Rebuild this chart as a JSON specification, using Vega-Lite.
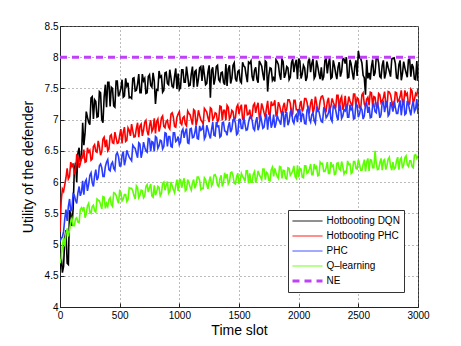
{
"$schema": "https://vega.github.io/schema/vega-lite/v6.json",
"width": 358, "height": 281,
"autosize": {"type": "none"},
"padding": {"left": 60, "top": 26, "right": 43, "bottom": 39},
"background": "white",
"config": {
  "font": "Liberation Sans",
  "view": {"stroke": "#333", "strokeWidth": 1},
  "axis": {
    "grid": true, "gridDash": [1, 3], "gridColor": "#777", "gridWidth": 1,
    "domainColor": "#222", "tickColor": "#222", "tickSize": -4,
    "labelFontSize": 10, "labelColor": "#000", "labelFont": "Liberation Sans",
    "titleFontSize": 14, "titleFontWeight": "normal", "titleColor": "#000", "titleFont": "Liberation Sans",
    "labelFlush": false, "labelOverlap": false
  },
  "legend": {
    "orient": "none", "legendX": 228, "legendY": 184, "title": null,
    "strokeColor": "#333", "fillColor": "white", "padding": 4,
    "symbolType": "stroke", "symbolSize": 900, "symbolOffset": 10.5,
    "labelFontSize": 10, "labelFont": "Liberation Sans", "labelColor": "#000", "labelOffset": 14,
    "clipHeight": 14, "rowPadding": 1
  }
},
"encoding": {
  "x": {"field": "t", "type": "quantitative", "title": "Time slot",
        "scale": {"domain": [0, 3000], "nice": false},
        "axis": {"values": [0, 500, 1000, 1500, 2000, 2500, 3000], "format": "d", "labelPadding": 7, "titlePadding": 3}},
  "y": {"field": "v", "type": "quantitative", "title": "Utility of the defender",
        "scale": {"domain": [4, 8.5], "nice": false, "zero": false},
        "axis": {"values": [4, 4.5, 5, 5.5, 6, 6.5, 7, 7.5, 8, 8.5], "format": "~g", "labelPadding": 6, "titlePadding": 9}},
  "color": {"field": "s", "type": "nominal",
    "scale": {"domain": ["a", "b", "c", "d", "e"], "range": ["#000000", "#ff0000", "#2a3cff", "#5cff00", "#c040f8"]},
    "legend": {"labelExpr": "{'a': 'Hotbooting DQN', 'b': 'Hotbooting PHC', 'c': 'PHC', 'd': 'Q–learning', 'e': 'NE'}[datum.label]",
      "encode": {"symbols": {"update": {"strokeWidth": {"signal": "datum.value === 'e' ? 3 : 1"}}}}}},
  "strokeDash": {"field": "s", "type": "nominal",
    "scale": {"domain": ["a", "b", "c", "d", "e"], "range": [[1, 0], [1, 0], [1, 0], [1, 0], [7, 5]]},
    "legend": {"labelExpr": "{'a': 'Hotbooting DQN', 'b': 'Hotbooting PHC', 'c': 'PHC', 'd': 'Q–learning', 'e': 'NE'}[datum.label]",
      "encode": {"symbols": {"update": {"strokeWidth": {"signal": "datum.value === 'e' ? 3 : 1"}}}}}}
},
"layer": [
  {
    "data": {"values": [
{"t":0,"a":4.6,"b":5.2,"c":5.05,"d":4.7},
{"t":20,"a":4.55,"b":5.89,"c":5.12,"d":4.99},
{"t":40,"a":5.1,"b":5.96,"c":5.41,"d":4.97},
{"t":60,"a":4.7,"b":6.22,"c":5.38,"d":5.26},
{"t":80,"a":5.55,"b":6.09,"c":5.73,"d":5.23},
{"t":100,"a":5.3,"b":6.25,"c":5.58,"d":5.42},
{"t":120,"a":6.2,"b":6.14,"c":5.79,"d":5.3},
{"t":140,"a":6.0,"b":6.43,"c":5.66,"d":5.43},
{"t":160,"a":6.55,"b":6.23,"c":5.93,"d":5.35},
{"t":180,"a":6.4,"b":6.41,"c":5.84,"d":5.59},
{"t":200,"a":6.59,"b":6.52,"c":5.8,"d":5.6},
{"t":220,"a":7.13,"b":6.33,"c":6.04,"d":5.49},
{"t":240,"a":6.96,"b":6.48,"c":5.96,"d":5.66},
{"t":260,"a":7.35,"b":6.35,"c":6.15,"d":5.5},
{"t":280,"a":7.01,"b":6.57,"c":5.93,"d":5.63},
{"t":300,"a":7.29,"b":6.49,"c":6.2,"d":5.52},
{"t":320,"a":7.05,"b":6.66,"c":6.08,"d":5.71},
{"t":340,"a":7.43,"b":6.43,"c":6.29,"d":5.64},
{"t":360,"a":6.95,"b":6.69,"c":6.09,"d":5.77},
{"t":380,"a":7.56,"b":6.56,"c":6.25,"d":5.58},
{"t":400,"a":7.6,"b":6.5,"c":6.36,"d":5.61},
{"t":420,"a":7.21,"b":6.74,"c":6.18,"d":5.75},
{"t":440,"a":7.5,"b":6.63,"c":6.32,"d":5.61},
{"t":460,"a":7.2,"b":6.8,"c":6.19,"d":5.82},
{"t":480,"a":7.62,"b":6.62,"c":6.47,"d":5.72},
{"t":500,"a":7.42,"b":6.75,"c":6.26,"d":5.86},
{"t":520,"a":7.64,"b":6.62,"c":6.43,"d":5.7},
{"t":540,"a":7.38,"b":6.88,"c":6.27,"d":5.8},
{"t":560,"a":7.54,"b":6.67,"c":6.51,"d":5.69},
{"t":580,"a":7.35,"b":6.83,"c":6.4,"d":5.91},
{"t":600,"a":7.34,"b":6.93,"c":6.34,"d":5.9},
{"t":620,"a":7.67,"b":6.72,"c":6.56,"d":5.78},
{"t":640,"a":7.47,"b":6.86,"c":6.46,"d":5.94},
{"t":660,"a":7.73,"b":6.72,"c":6.63,"d":5.75},
{"t":680,"a":7.43,"b":6.93,"c":6.39,"d":5.87},
{"t":700,"a":7.62,"b":6.83,"c":6.64,"d":5.75},
{"t":720,"a":7.42,"b":6.99,"c":6.5,"d":5.93},
{"t":740,"a":7.69,"b":6.75,"c":6.7,"d":5.84},
{"t":760,"a":7.55,"b":6.99,"c":6.49,"d":5.97},
{"t":780,"a":7.75,"b":6.85,"c":6.64,"d":5.76},
{"t":800,"a":7.25,"b":6.78,"c":6.73,"d":5.79},
{"t":820,"a":7.47,"b":7.01,"c":6.54,"d":5.93},
{"t":840,"a":7.68,"b":6.89,"c":6.67,"d":5.78},
{"t":860,"a":7.44,"b":7.06,"c":6.53,"d":5.98},
{"t":880,"a":7.75,"b":6.87,"c":6.79,"d":5.87},
{"t":900,"a":7.58,"b":6.99,"c":6.57,"d":6.01},
{"t":920,"a":7.8,"b":6.85,"c":6.73,"d":5.85},
{"t":940,"a":7.53,"b":7.11,"c":6.56,"d":5.94},
{"t":960,"a":7.69,"b":6.89,"c":6.79,"d":5.83},
{"t":980,"a":7.49,"b":7.04,"c":6.67,"d":6.04},
{"t":1000,"a":7.48,"b":7.13,"c":6.6,"d":6.03},
{"t":1020,"a":7.8,"b":6.92,"c":6.81,"d":5.91},
{"t":1040,"a":7.6,"b":7.05,"c":6.71,"d":6.06},
{"t":1060,"a":7.85,"b":6.9,"c":6.86,"d":5.88},
{"t":1080,"a":7.54,"b":7.1,"c":6.62,"d":5.99},
{"t":1100,"a":7.73,"b":7.0,"c":6.86,"d":5.87},
{"t":1120,"a":7.52,"b":7.16,"c":6.72,"d":6.04},
{"t":1140,"a":7.79,"b":6.91,"c":6.91,"d":5.96},
{"t":1160,"a":7.65,"b":7.15,"c":6.69,"d":6.08},
{"t":1180,"a":7.85,"b":7.0,"c":6.83,"d":5.88},
{"t":1200,"a":7.87,"b":6.93,"c":6.92,"d":5.9},
{"t":1220,"a":7.56,"b":7.15,"c":6.73,"d":6.04},
{"t":1240,"a":7.77,"b":7.03,"c":6.84,"d":5.89},
{"t":1260,"a":7.35,"b":7.19,"c":6.7,"d":6.09},
{"t":1280,"a":7.84,"b":7.0,"c":6.96,"d":5.98},
{"t":1300,"a":7.66,"b":7.11,"c":6.74,"d":6.12},
{"t":1320,"a":7.87,"b":6.96,"c":6.89,"d":5.95},
{"t":1340,"a":7.61,"b":7.22,"c":6.72,"d":6.05},
{"t":1360,"a":7.76,"b":6.99,"c":6.95,"d":5.93},
{"t":1380,"a":7.56,"b":7.15,"c":6.82,"d":6.15},
{"t":1400,"a":7.54,"b":7.23,"c":6.75,"d":6.13},
{"t":1420,"a":7.87,"b":7.01,"c":6.96,"d":6.01},
{"t":1440,"a":7.66,"b":7.15,"c":6.85,"d":6.16},
{"t":1460,"a":7.91,"b":6.99,"c":7.01,"d":5.98},
{"t":1480,"a":7.61,"b":7.2,"c":6.76,"d":6.09},
{"t":1500,"a":7.79,"b":7.09,"c":7.0,"d":5.97},
{"t":1520,"a":7.59,"b":7.24,"c":6.86,"d":6.14},
{"t":1540,"a":7.86,"b":7.0,"c":7.04,"d":6.06},
{"t":1560,"a":7.71,"b":7.23,"c":6.83,"d":6.18},
{"t":1580,"a":7.92,"b":7.09,"c":6.96,"d":5.98},
{"t":1600,"a":7.94,"b":7.01,"c":7.05,"d":6.0},
{"t":1620,"a":7.62,"b":7.23,"c":6.86,"d":6.13},
{"t":1640,"a":7.84,"b":7.11,"c":6.97,"d":5.99},
{"t":1660,"a":7.59,"b":7.27,"c":6.83,"d":6.18},
{"t":1680,"a":7.9,"b":7.08,"c":7.08,"d":6.08},
{"t":1700,"a":7.73,"b":7.19,"c":6.86,"d":6.21},
{"t":1720,"a":7.94,"b":7.04,"c":7.02,"d":6.04},
{"t":1740,"a":7.45,"b":7.3,"c":6.84,"d":6.14},
{"t":1760,"a":7.83,"b":7.07,"c":7.07,"d":6.02},
{"t":1780,"a":7.63,"b":7.23,"c":6.94,"d":6.24},
{"t":1800,"a":7.61,"b":7.31,"c":6.87,"d":6.22},
{"t":1820,"a":7.93,"b":7.09,"c":7.07,"d":6.09},
{"t":1840,"a":7.72,"b":7.23,"c":6.97,"d":6.25},
{"t":1860,"a":7.97,"b":7.07,"c":7.12,"d":6.06},
{"t":1880,"a":7.67,"b":7.27,"c":6.88,"d":6.18},
{"t":1900,"a":7.85,"b":7.17,"c":7.12,"d":6.05},
{"t":1920,"a":7.64,"b":7.32,"c":6.97,"d":6.22},
{"t":1940,"a":7.91,"b":7.07,"c":7.16,"d":6.14},
{"t":1960,"a":7.76,"b":7.31,"c":6.94,"d":6.26},
{"t":1980,"a":7.96,"b":7.16,"c":7.08,"d":6.06},
{"t":2000,"a":7.98,"b":7.08,"c":7.16,"d":6.08},
{"t":2020,"a":7.66,"b":7.3,"c":6.96,"d":6.21},
{"t":2040,"a":7.87,"b":7.18,"c":7.08,"d":6.07},
{"t":2060,"a":7.62,"b":7.34,"c":6.93,"d":6.26},
{"t":2080,"a":7.93,"b":7.15,"c":7.19,"d":6.16},
{"t":2100,"a":7.76,"b":7.26,"c":6.96,"d":6.29},
{"t":2120,"a":7.97,"b":7.11,"c":7.11,"d":6.12},
{"t":2140,"a":7.7,"b":7.37,"c":6.94,"d":6.22},
{"t":2160,"a":7.85,"b":7.14,"c":7.16,"d":6.1},
{"t":2180,"a":7.65,"b":7.3,"c":7.04,"d":6.32},
{"t":2200,"a":7.63,"b":7.38,"c":6.96,"d":6.3},
{"t":2220,"a":7.95,"b":7.16,"c":7.16,"d":6.17},
{"t":2240,"a":7.74,"b":7.29,"c":7.06,"d":6.32},
{"t":2260,"a":7.99,"b":7.14,"c":7.21,"d":6.14},
{"t":2280,"a":7.68,"b":7.34,"c":6.97,"d":6.25},
{"t":2300,"a":7.86,"b":7.23,"c":7.2,"d":6.12},
{"t":2320,"a":7.65,"b":7.39,"c":7.05,"d":6.3},
{"t":2340,"a":7.92,"b":7.14,"c":7.24,"d":6.21},
{"t":2360,"a":7.77,"b":7.37,"c":7.02,"d":6.33},
{"t":2380,"a":7.97,"b":7.23,"c":7.16,"d":6.13},
{"t":2400,"a":8.0,"b":7.15,"c":7.24,"d":6.15},
{"t":2420,"a":7.68,"b":7.37,"c":7.04,"d":6.28},
{"t":2440,"a":7.89,"b":7.25,"c":7.16,"d":6.14},
{"t":2460,"a":7.64,"b":7.41,"c":7.01,"d":6.33},
{"t":2480,"a":7.95,"b":7.21,"c":7.26,"d":6.22},
{"t":2500,"a":8.1,"b":7.33,"c":7.04,"d":6.36},
{"t":2520,"a":7.98,"b":7.18,"c":7.19,"d":6.19},
{"t":2540,"a":7.71,"b":7.43,"c":7.01,"d":6.28},
{"t":2560,"a":7.4,"b":7.21,"c":7.24,"d":6.17},
{"t":2580,"a":7.66,"b":7.36,"c":7.11,"d":6.38},
{"t":2600,"a":7.64,"b":7.44,"c":7.03,"d":6.36},
{"t":2620,"a":7.96,"b":7.22,"c":7.23,"d":6.23},
{"t":2640,"a":7.75,"b":7.36,"c":7.13,"d":6.5},
{"t":2660,"a":8.0,"b":7.2,"c":7.28,"d":6.2},
{"t":2680,"a":7.69,"b":7.4,"c":7.03,"d":6.31},
{"t":2700,"a":7.87,"b":7.3,"c":7.27,"d":6.19},
{"t":2720,"a":7.66,"b":7.45,"c":7.12,"d":6.36},
{"t":2740,"a":7.93,"b":7.2,"c":7.3,"d":6.27},
{"t":2760,"a":7.77,"b":7.44,"c":7.09,"d":6.4},
{"t":2780,"a":7.97,"b":7.29,"c":7.22,"d":6.19},
{"t":2800,"a":7.99,"b":7.21,"c":7.3,"d":6.21},
{"t":2820,"a":7.67,"b":7.43,"c":7.1,"d":6.34},
{"t":2840,"a":7.88,"b":7.31,"c":7.22,"d":6.2},
{"t":2860,"a":7.63,"b":7.47,"c":7.07,"d":6.39},
{"t":2880,"a":7.93,"b":7.27,"c":7.32,"d":6.28},
{"t":2900,"a":7.75,"b":7.39,"c":7.1,"d":6.42},
{"t":2920,"a":7.96,"b":7.24,"c":7.25,"d":6.25},
{"t":2940,"a":7.69,"b":7.49,"c":7.07,"d":6.34},
{"t":2960,"a":7.84,"b":7.27,"c":7.3,"d":6.23},
{"t":2980,"a":7.64,"b":7.42,"c":7.17,"d":6.44},
{"t":3000,"a":7.62,"b":7.5,"c":7.09,"d":6.42},
{"t":10,"a":4.84,"b":5.7,"c":5.1,"d":4.78},
{"t":30,"a":4.65,"b":5.85,"c":5.21,"d":5.11},
{"t":50,"a":5.23,"b":6.07,"c":5.56,"d":5.18},
{"t":70,"a":4.68,"b":6.05,"c":5.61,"d":5.13},
{"t":90,"a":5.5,"b":6.32,"c":5.53,"d":5.37},
{"t":110,"a":5.57,"b":6.3,"c":5.81,"d":5.3},
{"t":130,"a":6.31,"b":6.17,"c":5.71,"d":5.41},
{"t":150,"a":6.46,"b":6.41,"c":5.83,"d":5.36},
{"t":170,"a":6.32,"b":6.29,"c":5.78,"d":5.56},
{"t":190,"a":6.95,"b":6.39,"c":6.02,"d":5.55},
{"t":210,"a":6.79,"b":6.32,"c":6.0,"d":5.43},
{"t":230,"a":7.04,"b":6.55,"c":5.86,"d":5.62},
{"t":250,"a":6.92,"b":6.51,"c":6.11,"d":5.52},
{"t":270,"a":7.37,"b":6.37,"c":5.99,"d":5.61},
{"t":290,"a":7.32,"b":6.6,"c":6.1,"d":5.54},
{"t":310,"a":7.04,"b":6.48,"c":6.03,"d":5.73},
{"t":330,"a":7.45,"b":6.57,"c":6.26,"d":5.7},
{"t":350,"a":7.0,"b":6.49,"c":6.23,"d":5.57},
{"t":370,"a":7.37,"b":6.72,"c":6.09,"d":5.76},
{"t":390,"a":7.2,"b":6.68,"c":6.32,"d":5.66},
{"t":410,"a":7.6,"b":6.53,"c":6.2,"d":5.72},
{"t":430,"a":7.52,"b":6.76,"c":6.29,"d":5.64},
{"t":450,"a":7.22,"b":6.62,"c":6.22,"d":5.83},
{"t":470,"a":7.62,"b":6.71,"c":6.44,"d":5.79},
{"t":490,"a":7.37,"b":6.63,"c":6.41,"d":5.66},
{"t":510,"a":7.5,"b":6.85,"c":6.26,"d":5.84},
{"t":530,"a":7.36,"b":6.8,"c":6.49,"d":5.73},
{"t":550,"a":7.66,"b":6.65,"c":6.36,"d":5.8},
{"t":570,"a":7.59,"b":6.87,"c":6.45,"d":5.72},
{"t":590,"a":7.36,"b":6.74,"c":6.37,"d":5.9},
{"t":610,"a":7.66,"b":6.82,"c":6.59,"d":5.86},
{"t":630,"a":7.46,"b":6.73,"c":6.54,"d":5.73},
{"t":650,"a":7.57,"b":6.95,"c":6.39,"d":5.91},
{"t":670,"a":7.43,"b":6.9,"c":6.61,"d":5.79},
{"t":690,"a":7.73,"b":6.74,"c":6.48,"d":5.86},
{"t":710,"a":7.66,"b":6.96,"c":6.56,"d":5.78},
{"t":730,"a":7.43,"b":6.82,"c":6.48,"d":5.96},
{"t":750,"a":7.72,"b":6.9,"c":6.69,"d":5.91},
{"t":770,"a":7.52,"b":6.81,"c":6.65,"d":5.78},
{"t":790,"a":7.62,"b":7.02,"c":6.49,"d":5.95},
{"t":810,"a":7.48,"b":6.97,"c":6.71,"d":5.84},
{"t":830,"a":7.78,"b":6.81,"c":6.58,"d":5.91},
{"t":850,"a":7.7,"b":7.03,"c":6.66,"d":5.82},
{"t":870,"a":7.47,"b":6.89,"c":6.57,"d":6.0},
{"t":890,"a":7.76,"b":6.97,"c":6.78,"d":5.95},
{"t":910,"a":7.56,"b":6.88,"c":6.73,"d":5.82},
{"t":930,"a":7.67,"b":7.09,"c":6.57,"d":6.0},
{"t":950,"a":7.52,"b":7.04,"c":6.79,"d":5.88},
{"t":970,"a":7.82,"b":6.88,"c":6.65,"d":5.95},
{"t":990,"a":7.74,"b":7.09,"c":6.73,"d":5.86},
{"t":1010,"a":7.51,"b":6.95,"c":6.64,"d":6.04},
{"t":1030,"a":7.8,"b":7.03,"c":6.85,"d":6.0},
{"t":1050,"a":7.6,"b":6.93,"c":6.8,"d":5.86},
{"t":1070,"a":7.7,"b":7.14,"c":6.63,"d":6.04},
{"t":1090,"a":7.55,"b":7.08,"c":6.85,"d":5.92},
{"t":1110,"a":7.85,"b":6.92,"c":6.71,"d":5.99},
{"t":1130,"a":7.77,"b":7.14,"c":6.79,"d":5.9},
{"t":1150,"a":7.53,"b":6.99,"c":6.7,"d":6.08},
{"t":1170,"a":7.83,"b":7.07,"c":6.9,"d":6.03},
{"t":1190,"a":7.62,"b":6.97,"c":6.85,"d":5.9},
{"t":1210,"a":7.72,"b":7.18,"c":6.69,"d":6.07},
{"t":1230,"a":7.58,"b":7.12,"c":6.91,"d":5.96},
{"t":1250,"a":7.87,"b":6.96,"c":6.76,"d":6.02},
{"t":1270,"a":7.79,"b":7.17,"c":6.84,"d":5.94},
{"t":1290,"a":7.56,"b":7.03,"c":6.75,"d":6.11},
{"t":1310,"a":7.85,"b":7.1,"c":6.96,"d":6.07},
{"t":1330,"a":7.64,"b":7.0,"c":6.9,"d":5.93},
{"t":1350,"a":7.75,"b":7.21,"c":6.74,"d":6.11},
{"t":1370,"a":7.6,"b":7.15,"c":6.96,"d":5.99},
{"t":1390,"a":7.89,"b":6.99,"c":6.81,"d":6.06},
{"t":1410,"a":7.81,"b":7.2,"c":6.89,"d":5.97},
{"t":1430,"a":7.58,"b":7.05,"c":6.8,"d":6.15},
{"t":1450,"a":7.87,"b":7.13,"c":7.0,"d":6.1},
{"t":1470,"a":7.66,"b":7.03,"c":6.95,"d":5.97},
{"t":1490,"a":7.77,"b":7.24,"c":6.78,"d":6.14},
{"t":1510,"a":7.62,"b":7.18,"c":7.0,"d":6.03},
{"t":1530,"a":7.92,"b":7.01,"c":6.86,"d":6.09},
{"t":1550,"a":7.84,"b":7.23,"c":6.93,"d":6.01},
{"t":1570,"a":7.6,"b":7.08,"c":6.84,"d":6.18},
{"t":1590,"a":7.9,"b":7.16,"c":7.04,"d":6.14},
{"t":1610,"a":7.69,"b":7.06,"c":6.99,"d":6.0},
{"t":1630,"a":7.79,"b":7.26,"c":6.83,"d":6.17},
{"t":1650,"a":7.65,"b":7.21,"c":7.04,"d":6.06},
{"t":1670,"a":7.94,"b":7.04,"c":6.9,"d":6.12},
{"t":1690,"a":7.86,"b":7.26,"c":6.97,"d":6.04},
{"t":1710,"a":7.63,"b":7.11,"c":6.88,"d":6.21},
{"t":1730,"a":7.92,"b":7.18,"c":7.09,"d":6.16},
{"t":1750,"a":7.71,"b":7.09,"c":7.03,"d":6.03},
{"t":1770,"a":7.82,"b":7.29,"c":6.87,"d":6.2},
{"t":1790,"a":7.67,"b":7.24,"c":7.08,"d":6.09},
{"t":1810,"a":7.96,"b":7.07,"c":6.94,"d":6.15},
{"t":1830,"a":7.88,"b":7.28,"c":7.01,"d":6.06},
{"t":1850,"a":7.64,"b":7.14,"c":6.92,"d":6.24},
{"t":1870,"a":7.93,"b":7.21,"c":7.12,"d":6.19},
{"t":1890,"a":7.73,"b":7.11,"c":7.07,"d":6.06},
{"t":1910,"a":7.83,"b":7.32,"c":6.91,"d":6.23},
{"t":1930,"a":7.68,"b":7.26,"c":7.12,"d":6.11},
{"t":1950,"a":7.97,"b":7.09,"c":6.98,"d":6.18},
{"t":1970,"a":7.89,"b":7.31,"c":7.05,"d":6.09},
{"t":1990,"a":7.65,"b":7.16,"c":6.96,"d":6.27},
{"t":2010,"a":7.94,"b":7.23,"c":7.16,"d":6.22},
{"t":2030,"a":7.73,"b":7.13,"c":7.1,"d":6.08},
{"t":2050,"a":7.83,"b":7.34,"c":6.94,"d":6.26},
{"t":2070,"a":7.68,"b":7.28,"c":7.15,"d":6.14},
{"t":2090,"a":7.98,"b":7.12,"c":7.01,"d":6.21},
{"t":2110,"a":7.9,"b":7.33,"c":7.08,"d":6.12},
{"t":2130,"a":7.66,"b":7.18,"c":6.98,"d":6.29},
{"t":2150,"a":7.95,"b":7.26,"c":7.19,"d":6.25},
{"t":2170,"a":7.74,"b":7.16,"c":7.13,"d":6.11},
{"t":2190,"a":7.84,"b":7.37,"c":6.97,"d":6.29},
{"t":2210,"a":7.69,"b":7.31,"c":7.18,"d":6.17},
{"t":2230,"a":7.98,"b":7.14,"c":7.03,"d":6.23},
{"t":2250,"a":7.9,"b":7.35,"c":7.11,"d":6.14},
{"t":2270,"a":7.66,"b":7.21,"c":7.01,"d":6.32},
{"t":2290,"a":7.95,"b":7.28,"c":7.22,"d":6.27},
{"t":2310,"a":7.74,"b":7.18,"c":7.16,"d":6.13},
{"t":2330,"a":7.84,"b":7.39,"c":6.99,"d":6.31},
{"t":2350,"a":7.69,"b":7.33,"c":7.21,"d":6.19},
{"t":2370,"a":7.98,"b":7.16,"c":7.06,"d":6.25},
{"t":2390,"a":7.9,"b":7.38,"c":7.14,"d":6.17},
{"t":2410,"a":7.67,"b":7.23,"c":7.04,"d":6.34},
{"t":2430,"a":7.96,"b":7.3,"c":7.24,"d":6.29},
{"t":2450,"a":7.75,"b":7.21,"c":7.19,"d":6.16},
{"t":2470,"a":7.85,"b":7.41,"c":7.02,"d":6.33},
{"t":2490,"a":7.7,"b":7.35,"c":7.23,"d":6.21},
{"t":2510,"a":7.99,"b":7.19,"c":7.09,"d":6.28},
{"t":2530,"a":7.91,"b":7.4,"c":7.16,"d":6.19},
{"t":2550,"a":7.67,"b":7.25,"c":7.06,"d":6.36},
{"t":2570,"a":7.96,"b":7.33,"c":7.27,"d":6.32},
{"t":2590,"a":7.75,"b":7.23,"c":7.21,"d":6.18},
{"t":2610,"a":7.85,"b":7.43,"c":7.04,"d":6.35},
{"t":2630,"a":7.7,"b":7.37,"c":7.25,"d":6.23},
{"t":2650,"a":7.99,"b":7.21,"c":7.11,"d":6.3},
{"t":2670,"a":7.91,"b":7.42,"c":7.18,"d":6.21},
{"t":2690,"a":7.67,"b":7.27,"c":7.08,"d":6.38},
{"t":2710,"a":7.95,"b":7.35,"c":7.29,"d":6.34},
{"t":2730,"a":7.74,"b":7.25,"c":7.23,"d":6.2},
{"t":2750,"a":7.84,"b":7.45,"c":7.06,"d":6.37},
{"t":2770,"a":7.69,"b":7.4,"c":7.28,"d":6.26},
{"t":2790,"a":7.98,"b":7.23,"c":7.13,"d":6.32},
{"t":2810,"a":7.9,"b":7.44,"c":7.2,"d":6.23},
{"t":2830,"a":7.66,"b":7.29,"c":7.1,"d":6.4},
{"t":2850,"a":7.95,"b":7.37,"c":7.31,"d":6.36},
{"t":2870,"a":7.74,"b":7.27,"c":7.25,"d":6.22},
{"t":2890,"a":7.83,"b":7.47,"c":7.08,"d":6.39},
{"t":2910,"a":7.68,"b":7.42,"c":7.3,"d":6.28},
{"t":2930,"a":7.97,"b":7.25,"c":7.15,"d":6.34},
{"t":2950,"a":7.89,"b":7.46,"c":7.22,"d":6.25},
{"t":2970,"a":7.65,"b":7.32,"c":7.13,"d":6.43},
{"t":2990,"a":7.94,"b":7.39,"c":7.33,"d":6.38}
    ]},
    "transform": [{"fold": ["a", "b", "c", "d"], "as": ["s", "v"]}],
    "mark": {"type": "line", "clip": true, "strokeWidth": 1.6}
  },
  {
    "data": {"values": [{"t": 0, "v": 8, "s": "e"}, {"t": 3000, "v": 8, "s": "e"}]},
    "mark": {"type": "line", "strokeWidth": 3}
  }
]
}
